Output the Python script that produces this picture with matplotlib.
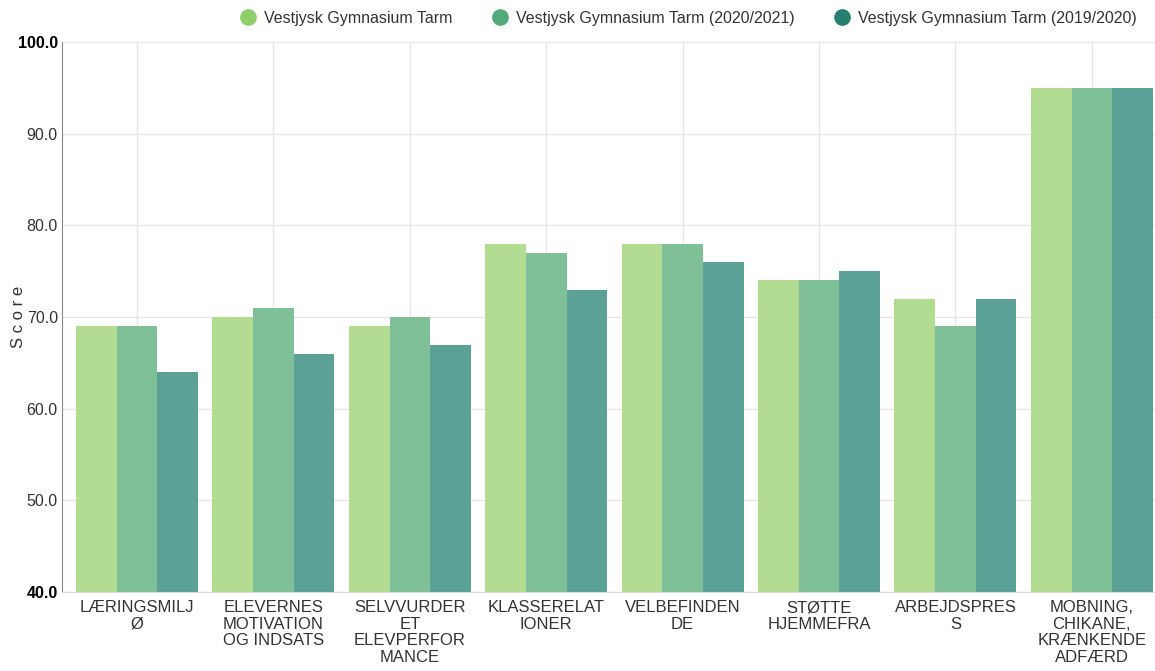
import matplotlib
matplotlib.use("Agg")
import matplotlib.pyplot as plt
import numpy as np
from matplotlib.lines import Line2D

plt.rcParams["font.family"] = ["Liberation Sans", "DejaVu Sans"]

categories = [
    "LÆRINGSMILJ\nØ",
    "ELEVERNES\nMOTIVATION\nOG INDSATS",
    "SELVVURDER\nET\nELEVPERFOR\nMANCE",
    "KLASSERELAT\nIONER",
    "VELBEFINDEN\nDE",
    "STØTTE\nHJEMMEFRA",
    "ARBEJDSPRES\nS",
    "MOBNING,\nCHIKANE,\nKRÆNKENDE\nADFÆRD",
]
series_names = [
    "Vestjysk Gymnasium Tarm",
    "Vestjysk Gymnasium Tarm (2020/2021)",
    "Vestjysk Gymnasium Tarm (2019/2020)",
]
current = [69, 70, 69, 78, 78, 74, 72, 95]
y2020 = [69, 71, 70, 77, 78, 74, 69, 95]
y2019 = [64, 66, 67, 73, 76, 75, 72, 95]
y_ticks = [40, 50, 60, 70, 80, 90, 100]

bar_colors = ["#b2dc92", "#7fc098", "#5ca196"]
legend_colors = ["#8fcf6b", "#52a979", "#277f6f"]

fig = plt.figure(figsize=(11.55, 6.71), dpi=100)
ax = fig.add_axes([62 / 1155, 79 / 671, 1 - 62 / 1155, 550 / 671])

x = np.arange(len(categories))
w = 0.298
for i, vals in enumerate([current, y2020, y2019]):
    ax.bar(x + (i - 1) * w, vals, width=w, color=bar_colors[i], zorder=2)

ax.set_xlim(-0.55, 7.463)
ax.set_ylim(40, 100)
ax.set_yticks(y_ticks)
ax.set_yticklabels([f"{t:.1f}" for t in y_ticks], fontsize=11.5, color="#333333")
for lbl in (ax.get_yticklabels()[0], ax.get_yticklabels()[-1]):
    lbl.set_fontweight("bold")
    lbl.set_color("#000000")
ax.set_xticks(x)
ax.set_xticklabels(categories, fontsize=12, color="#333333", linespacing=1.12)
ax.tick_params(axis="both", length=0)
ax.tick_params(axis="x", pad=6)
ax.tick_params(axis="y", pad=3)

ax.grid(True, color="#e6e6e6", linewidth=1, zorder=0)
for s in ["top", "right"]:
    ax.spines[s].set_visible(False)
ax.spines["left"].set_color("#888888")
ax.spines["bottom"].set_color("#dddddd")

ax.set_ylabel("S c o r e", fontsize=12, color="#333333")
ax.yaxis.set_label_coords(-36 / 1093, 0.5)

handles = [Line2D([], [], marker="o", linestyle="", markersize=11,
                  markerfacecolor=c, markeredgecolor=c) for c in legend_colors]
fig.legend(handles, series_names, loc="upper right", bbox_to_anchor=(0.997, 1.005),
           ncol=3, frameon=False, fontsize=11.5, handletextpad=0.0,
           columnspacing=2.0, labelcolor="#333333")

fig.savefig("out.png", dpi=100)
